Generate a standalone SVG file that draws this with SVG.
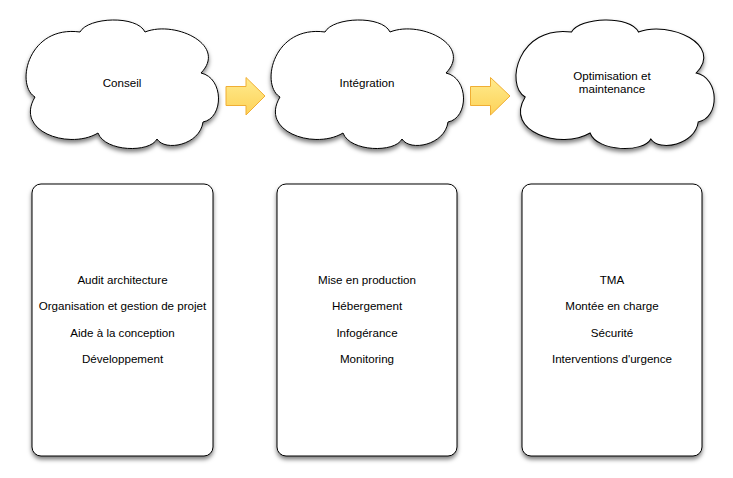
<svg xmlns="http://www.w3.org/2000/svg" width="733" height="478" viewBox="0 0 733 478">
<style>
.shape{fill:#fff;stroke:#000;stroke-width:1;filter:url(#sh)}
.arrow{fill:url(#ag);stroke:#f0ae34;stroke-width:1;stroke-linejoin:miter}
text{font-family:"Liberation Sans",Arial,sans-serif;font-size:11.6px;fill:#000;text-anchor:middle}
</style>
<defs>
<filter id="sh" x="-10%" y="-10%" width="120%" height="130%">
<feDropShadow dx="0" dy="3" stdDeviation="2" flood-color="#000" flood-opacity="0.5"/>
</filter>
<linearGradient id="ag" x1="0" y1="0" x2="0" y2="1">
<stop offset="0" stop-color="#ffeb8e"/>
<stop offset="1" stop-color="#fdd258"/>
</linearGradient>
<path id="cloud" d="M80,32 C88,17 137,15 145,32 C175,20 228,45 201,73 C224,78 224,118 203,122 C200,145 165,152 157,139 C150,153 105,152 98,133 C70,150 14,132 35,97 C15,85 28,25 80,32 Z"/>
</defs>
<rect width="733" height="478" fill="#fff"/>
<g id="cloud-conseil">
<use href="#cloud" class="shape"/>
<text x="122" y="87">Conseil</text>
</g>
<g id="cloud-integration">
<use href="#cloud" class="shape" transform="translate(245,0)"/>
<text x="367" y="87">Intégration</text>
</g>
<g id="cloud-optimisation">
<use href="#cloud" class="shape" transform="translate(519,0) scale(1.03,1) translate(-29,0)"/>
<text x="612" y="80">Optimisation et</text>
<text x="612" y="93">maintenance</text>
</g>
<g id="box-conseil">
<rect x="32" y="184" width="181" height="272" rx="9" class="shape"/>
<text x="122.5" y="284">Audit architecture</text>
<text x="122.5" y="310">Organisation et gestion de projet</text>
<text x="122.5" y="337">Aide à la conception</text>
<text x="122.5" y="363">Développement</text>
</g>
<g id="box-integration">
<rect x="277" y="184" width="180" height="272" rx="9" class="shape"/>
<text x="367" y="284">Mise en production</text>
<text x="367" y="310">Hébergement</text>
<text x="367" y="337">Infogérance</text>
<text x="367" y="363">Monitoring</text>
</g>
<g id="box-optimisation">
<rect x="522" y="184" width="180" height="272" rx="9" class="shape"/>
<text x="612" y="284">TMA</text>
<text x="612" y="310">Montée en charge</text>
<text x="612" y="337">Sécurité</text>
<text x="612" y="363">Interventions d'urgence</text>
</g>
<g id="connectors">
<polygon class="arrow" points="226,86.5 246,86.5 246,77.5 265,96 246,115 246,105.5 226,105.5"/>
<polygon class="arrow" points="470.5,86.5 490.5,86.5 490.5,77.5 510,96 490.5,115 490.5,105.5 470.5,105.5"/>
</g>
</svg>
